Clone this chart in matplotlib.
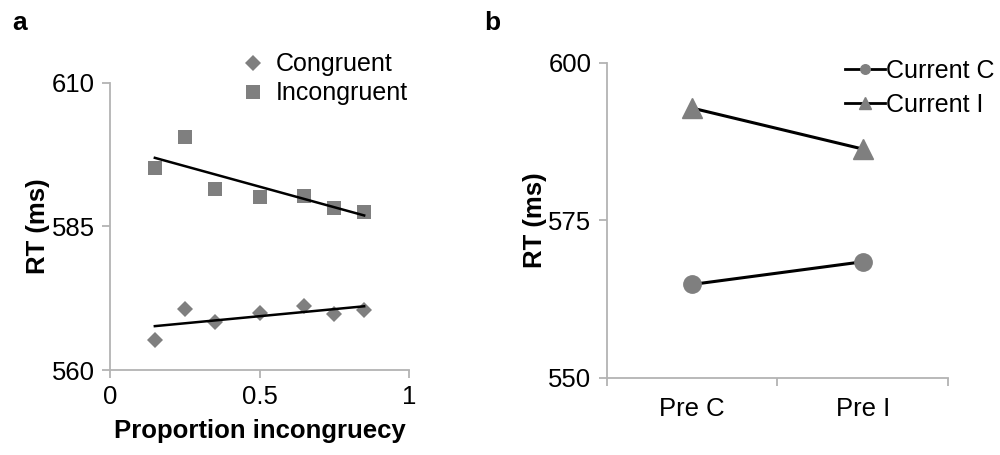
''' RT plots: proportion congruency and sequence effects '''

import matplotlib
matplotlib.use('Agg')
import matplotlib.pyplot as plt
import numpy as np

# panel a
prop = [0.15, 0.25, 0.35, 0.5, 0.65, 0.75, 0.85]
rt_congruent = [565.2, 570.6, 568.4, 570.0, 571.2, 569.7, 570.5]
rt_incongruent = [595.2, 600.6, 591.5, 590.2, 590.3, 588.3, 587.5]

# panel b
prev_trial = ['Pre C', 'Pre I']
rt_current_c = [564.8, 568.4]
rt_current_i = [592.8, 586.3]

GRAY = '#7f7f7f'
SPINE = '#b3b3b3'


def style_axes(ax):
    ''' excel-like axes '''
    for side in ('top', 'right'):
        ax.spines[side].set_visible(False)
    for side in ('left', 'bottom'):
        ax.spines[side].set_color(SPINE)
        ax.spines[side].set_linewidth(1.3)
    ax.tick_params(direction='out', length=6, width=1.3, color=SPINE,
                   labelsize=18.5, pad=5)


def main():
    ''' main '''
    plt.rcParams['font.family'] = ['Liberation Sans', 'DejaVu Sans']

    fig = plt.figure(figsize=(10, 4.55), dpi=100)

    # --- panel a
    ax = fig.add_axes([0.11, 0.1868, 0.299, 0.6308])
    style_axes(ax)
    ax.plot(prop, rt_congruent, 'D', color=GRAY, markersize=7.8,
            markeredgewidth=0, label='Congruent', zorder=2)
    ax.plot(prop, rt_incongruent, 's', color=GRAY, markersize=10.5,
            markeredgewidth=0, label='Incongruent', zorder=2)
    xs = np.array([prop[0], prop[-1]])
    for vals in (rt_congruent, rt_incongruent):
        k, b = np.polyfit(prop, vals, 1)
        ax.plot(xs, k * xs + b, color='black', linewidth=1.8, zorder=3)
    ax.set_xlim(0, 1)
    ax.set_ylim(560, 610)
    ax.set_xticks([0, 0.5, 1])
    ax.set_xticklabels(['0', '0.5', '1'])
    ax.set_yticks([560, 585, 610])
    ax.set_xlabel('Proportion incongruecy', fontsize=18.5, fontweight='bold',
                  labelpad=7)
    ax.set_ylabel('RT (ms)', fontsize=18.5, fontweight='bold', labelpad=1)
    ax.legend(loc='upper right', bbox_to_anchor=(0.408, 0.885),
              bbox_transform=fig.transFigure, frameon=False,
              fontsize=18, handletextpad=0.4, labelspacing=0.2,
              borderaxespad=0, borderpad=0, handlelength=1.0)
    fig.text(0.012, 0.935, 'a', fontsize=19, fontweight='bold')

    # --- panel b
    ax = fig.add_axes([0.6067, 0.1699, 0.3413, 0.6923])
    style_axes(ax)
    pos = np.arange(len(prev_trial))
    ax.plot(pos, rt_current_c, '-o', color='black', markerfacecolor=GRAY,
            markeredgecolor=GRAY, markersize=12.5, linewidth=2.2,
            label='Current C')
    ax.plot(pos, rt_current_i, '-^', color='black', markerfacecolor=GRAY,
            markeredgecolor=GRAY, markersize=15, linewidth=2.2,
            label='Current I')
    ax.set_xlim(-0.5, 1.5)
    ax.set_ylim(550, 600)
    ax.set_xticks([-0.5, 0.5, 1.5])
    ax.set_xticklabels([])
    ax.set_xticks(pos, minor=True)
    ax.set_xticklabels(prev_trial, minor=True)
    ax.tick_params(axis='x', which='minor', length=0, labelsize=18.5, pad=14)
    ax.set_yticks([550, 575, 600])
    ax.set_ylabel('RT (ms)', fontsize=18.5, fontweight='bold', labelpad=1)
    leg = ax.legend(loc='upper right', bbox_to_anchor=(0.995, 0.87),
                    bbox_transform=fig.transFigure,
                    frameon=False, fontsize=18, handletextpad=0.05,
                    labelspacing=0.4, borderaxespad=0, borderpad=0,
                    handlelength=1.6, markerscale=0.55)
    for line in leg.get_lines():
        line.set_linewidth(2)
    fig.text(0.484, 0.935, 'b', fontsize=19, fontweight='bold')

    fig.savefig('out.png', dpi=100)


if __name__ == '__main__':
    main()
